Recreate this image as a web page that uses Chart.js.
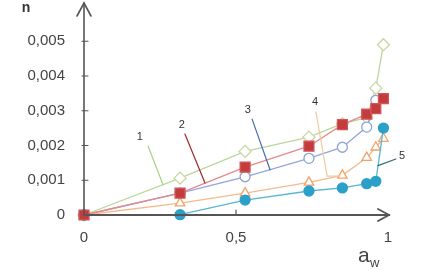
<!DOCTYPE html>
<html>
<head>
<meta charset="utf-8">
<script src="https://cdn.jsdelivr.net/npm/chart.js@4.4.1/dist/chart.umd.min.js"></script>
<style>
html,body{margin:0;padding:0;background:#fff;}
#wrap{position:relative;width:425px;height:271px;}
</style>
</head>
<body>
<div id="wrap"><canvas id="c" width="425" height="271"></canvas></div>
<script>
// ---- data ----
const xs1 = [0, 0.316, 0.53, 0.74, 0.85, 0.93, 0.96, 0.985];
const s1 = [0, 0.00106, 0.00183, 0.00224, 0.00263, 0.0028, 0.00365, 0.0049];
const xs2 = [0, 0.316, 0.53, 0.74, 0.85, 0.93, 0.96, 0.985];
const s2 = [0, 0.00063, 0.00138, 0.00198, 0.0026, 0.0029, 0.00306, 0.00335];
const xs3 = [0, 0.316, 0.53, 0.74, 0.85, 0.93, 0.96];
const s3 = [0, 0.00063, 0.0011, 0.00163, 0.00195, 0.00253, 0.0033];
const xs4 = [0, 0.316, 0.53, 0.74, 0.85, 0.93, 0.96, 0.985];
const s4 = [0, 0.00034, 0.00063, 0.00094, 0.00114, 0.00165, 0.00195, 0.0022];
const xs5 = [0, 0.316, 0.53, 0.74, 0.85, 0.93, 0.96, 0.985];
const s5 = [0, 0.00001, 0.00043, 0.00069, 0.00078, 0.0009, 0.00097, 0.0025];
const seriesNames = ['1', '2', '3', '4', '5'];
const xTicks = [0, 0.5, 1];
const xTickLabels = ['0', '0,5', '1'];
const yTicks = [0, 0.001, 0.002, 0.003, 0.004, 0.005];
const yTickLabels = ['0', '0,001', '0,002', '0,003', '0,004', '0,005'];
const yTitle = 'n';
const xTitle = 'a';
const xTitleSub = 'w';

// callout labels (data coordinates): label point, leader path
const callouts = [
  {t: seriesNames[0], at: [0.184, 0.00224], path: [[0.211, 0.00198], [0.26, 0.00087]], color: '#a9cf86'},
  {t: seriesNames[1], at: [0.322, 0.00259], path: [[0.332, 0.00233], [0.398, 0.00092]], color: '#a3262b'},
  {t: seriesNames[2], at: [0.539, 0.00302], path: [[0.553, 0.00276], [0.612, 0.0013]], color: '#4a6cab'},
  {t: seriesNames[3], at: [0.76, 0.00325], path: [[0.763, 0.00296], [0.80, 0.00112], [0.842, 0.00112]], color: '#f0c9a0'},
  {t: seriesNames[4], at: [1.046, 0.0017], path: [[0.967, 0.00142], [1.026, 0.00161]], color: '#2d6f6c'}
];

function pts(xs, ys) { return xs.map((x, i) => ({x: x, y: ys[i]})); }

const decor = {
  id: 'decor',
  afterDatasetsDraw(chart) {
    const ctx = chart.ctx, xS = chart.scales.x, yS = chart.scales.y, ca = chart.chartArea;
    const x0 = xS.getPixelForValue(0), y0 = yS.getPixelForValue(0);
    ctx.save();
    ctx.strokeStyle = '#555';
    ctx.lineCap = 'round';
    // y axis
    ctx.lineWidth = 1.6;
    ctx.beginPath(); ctx.moveTo(x0, y0); ctx.lineTo(x0, ca.top); ctx.stroke();
    ctx.beginPath(); ctx.moveTo(x0 - 7, ca.top + 13); ctx.lineTo(x0, ca.top); ctx.lineTo(x0 + 7, ca.top + 13); ctx.stroke();
    // x axis
    ctx.lineWidth = 2.2;
    const xe = ca.right - 3;
    ctx.beginPath(); ctx.moveTo(x0, y0); ctx.lineTo(xe, y0); ctx.stroke();
    ctx.lineWidth = 1.8;
    ctx.beginPath(); ctx.moveTo(xe - 11, y0 - 6); ctx.lineTo(xe, y0); ctx.lineTo(xe - 11, y0 + 6); ctx.stroke();
    // tick marks
    ctx.lineWidth = 1.2;
    yTicks.forEach(v => { if (v === 0) return; const y = yS.getPixelForValue(v); ctx.beginPath(); ctx.moveTo(x0 - 2, y); ctx.lineTo(x0 + 4, y); ctx.stroke(); });
    xTicks.forEach(v => { if (v === 0 || v === 1) return; const x = xS.getPixelForValue(v); ctx.beginPath(); ctx.moveTo(x, y0 - 5); ctx.lineTo(x, y0); ctx.stroke(); });
    // callouts
    ctx.lineWidth = 1.2;
    callouts.forEach(c => {
      ctx.strokeStyle = c.color;
      ctx.beginPath();
      c.path.forEach((p, i) => { const px = xS.getPixelForValue(p[0]), py = yS.getPixelForValue(p[1]); if (i) ctx.lineTo(px, py); else ctx.moveTo(px, py); });
      ctx.stroke();
      ctx.fillStyle = '#333';
      ctx.font = '11px "Liberation Sans", Arial, sans-serif';
      ctx.textAlign = 'center'; ctx.textBaseline = 'middle';
      ctx.fillText(c.t, xS.getPixelForValue(c.at[0]), yS.getPixelForValue(c.at[1]));
    });
    // axis titles
    ctx.fillStyle = '#333';
    ctx.font = 'bold 14px "Liberation Sans", Arial, sans-serif';
    ctx.textAlign = 'center'; ctx.textBaseline = 'middle';
    ctx.fillText(yTitle, 26, 8);
    ctx.fillStyle = '#444';
    ctx.font = '21px "Liberation Sans", Arial, sans-serif';
    ctx.textAlign = 'left'; ctx.textBaseline = 'alphabetic';
    ctx.fillText(xTitle, 358, 262);
    ctx.font = '13px "Liberation Sans", Arial, sans-serif';
    ctx.fillText(xTitleSub, 370, 267);
    ctx.restore();
  }
};

const ds = (label, xs, ys, line, style, fill, border, r) => ({
  label, data: pts(xs, ys), borderColor: line, borderWidth: 1.3,
  pointStyle: style, pointRadius: r, pointBackgroundColor: fill, pointBorderColor: border,
  pointBorderWidth: 1.3, tension: 0, clip: false, showLine: true
});

new Chart(document.getElementById('c'), {
  type: 'scatter',
  data: {
    datasets: [
      ds(seriesNames[1], xs2, s2, '#e6898b', 'rect', '#c43b3d', '#d35556', 7),
      ds(seriesNames[4], xs5, s5, '#5bb3d3', 'circle', '#2ba0c9', '#2ba0c9', 5),
      ds(seriesNames[3], xs4, s4, '#f6b98c', 'triangle', '#ffffff', '#f2a366', 5.5),
      ds(seriesNames[2], xs3, s3, '#92a6da', 'circle', '#ffffff', '#8da3d6', 5),
      ds(seriesNames[0], xs1, s1, '#bad79c', 'rectRot', '#ffffff', '#c6d6a0', 6)
    ]
  },
  options: {
    responsive: false,
    animation: false,
    devicePixelRatio: 1,
    layout: {autoPadding: false, padding: {top: 3, right: 33, left: 0, bottom: 0}},
    plugins: {legend: {display: false}, tooltip: {enabled: false}},
    scales: {
      x: {
        type: 'linear', min: 0, max: 1.0132,
        grid: {display: false, drawTicks: false}, border: {display: false},
        afterBuildTicks: s => { s.ticks = xTicks.map(v => ({value: v})); },
        afterFit: s => { s.height = 56; s.paddingLeft = 0; s.paddingRight = 0; },
        ticks: {autoSkip: false, maxRotation: 0, padding: 14, color: '#444',
          font: {family: '"Liberation Sans", Arial, sans-serif', size: 15},
          callback: (v) => xTickLabels[xTicks.indexOf(v)]}
      },
      y: {
        type: 'linear', min: 0, max: 0.0061,
        grid: {display: false, drawTicks: false}, border: {display: false},
        afterBuildTicks: s => { s.ticks = yTicks.map(v => ({value: v})); },
        afterFit: s => { s.width = 84; s.paddingTop = 0; s.paddingBottom = 0; },
        ticks: {autoSkip: false, padding: 19, color: '#444',
          font: {family: '"Liberation Sans", Arial, sans-serif', size: 15},
          callback: (v) => yTickLabels[yTicks.indexOf(v)]}
      }
    }
  },
  plugins: [decor]
});
</script>
</body>
</html>
